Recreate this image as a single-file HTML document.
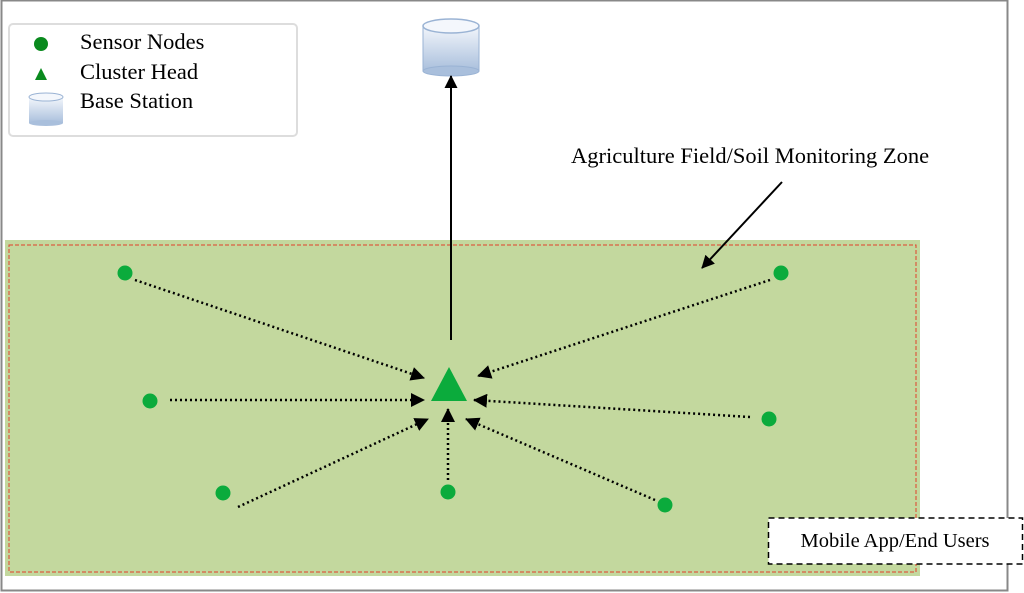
<!DOCTYPE html>
<html><head><style>body{margin:0;background:#fff}svg{display:block}</style></head><body>
<svg width="1024" height="593" viewBox="0 0 1024 593" xmlns="http://www.w3.org/2000/svg" font-family="Liberation Serif, serif">
<defs>
<linearGradient id="cyl" x1="0" y1="0" x2="0" y2="1"><stop offset="0" stop-color="#f4f7fc"/><stop offset="1" stop-color="#a9bfdc"/></linearGradient>
<marker id="ah" markerWidth="14" markerHeight="14" refX="13" refY="7" orient="auto" markerUnits="userSpaceOnUse"><path d="M0,0 L14,7 L0,14 z" fill="#000"/></marker>
<marker id="ah2" markerWidth="13" markerHeight="13" refX="12" refY="6.5" orient="auto" markerUnits="userSpaceOnUse"><path d="M0,0 L13,6.5 L0,13 z" fill="#000"/></marker>
</defs>
<rect x="1.5" y="0.5" width="1006" height="590" fill="#fff" stroke="#888" stroke-width="2"/>
<rect x="9" y="24" width="288" height="112" rx="4" fill="#fff" stroke="#ddd" stroke-width="2"/>
<circle cx="41" cy="44" r="7" fill="#0a8a1e"/>
<polygon points="41,68 47,80 35,80" fill="#0a8a1e"/>
<g><rect x="29" y="97" width="34" height="26" fill="url(#cyl)"/><ellipse cx="46" cy="123" rx="17" ry="3" fill="#a9bfdc"/><ellipse cx="46" cy="97" rx="17" ry="4" fill="#f4f7fc" stroke="#9ab3d4"/></g>
<g font-size="22.5" fill="#000"><text x="80" y="49">Sensor Nodes</text><text x="80" y="79">Cluster Head</text><text x="80" y="108">Base Station</text></g>
<g><rect x="423" y="25" width="56" height="46" fill="url(#cyl)" stroke="#9ab3d4"/><ellipse cx="451" cy="71" rx="28" ry="5" fill="#a9bfdc" stroke="#9ab3d4"/><ellipse cx="451" cy="26" rx="28" ry="7" fill="#f4f7fc" stroke="#9ab3d4" stroke-width="1.5"/></g>
<text x="571" y="163" font-size="22.5">Agriculture Field/Soil Monitoring Zone</text>
<rect x="5" y="240" width="915" height="336" fill="#c3d89e"/>
<rect x="9" y="245" width="907" height="327" fill="none" stroke="#e0402a" stroke-width="1" stroke-dasharray="4,2"/>
<line x1="451" y1="340" x2="451" y2="76" stroke="#000" stroke-width="2" marker-end="url(#ah2)"/>
<line x1="782" y1="182" x2="702" y2="268" stroke="#000" stroke-width="2" marker-end="url(#ah2)"/>
<g stroke="#000" stroke-width="2.5" stroke-dasharray="2,3" fill="none" marker-end="url(#ah)">
<line x1="135" y1="280" x2="424" y2="378"/>
<line x1="770" y1="280" x2="478" y2="376"/>
<line x1="170" y1="400" x2="424" y2="400"/>
<line x1="750" y1="417" x2="474" y2="400"/>
<line x1="238" y1="507" x2="428" y2="419"/>
<line x1="448" y1="480" x2="448" y2="409"/>
<line x1="655" y1="500" x2="466" y2="419"/>
</g>
<polygon points="449,367 467,401 431,401" fill="#0bab3c"/>
<g fill="#0bab3c"><circle cx="125" cy="273" r="7.5"/><circle cx="781" cy="273" r="7.5"/><circle cx="150" cy="401" r="7.5"/><circle cx="769" cy="419" r="7.5"/><circle cx="223" cy="493" r="7.5"/><circle cx="448" cy="492" r="7.5"/><circle cx="665" cy="505" r="7.5"/></g>
<rect x="768.5" y="518" width="254" height="46" fill="#fff" stroke="#000" stroke-width="1.5" stroke-dasharray="6,4"/>
<text x="895" y="547" font-size="20.5" text-anchor="middle">Mobile App/End Users</text>
</svg>
</body></html>
